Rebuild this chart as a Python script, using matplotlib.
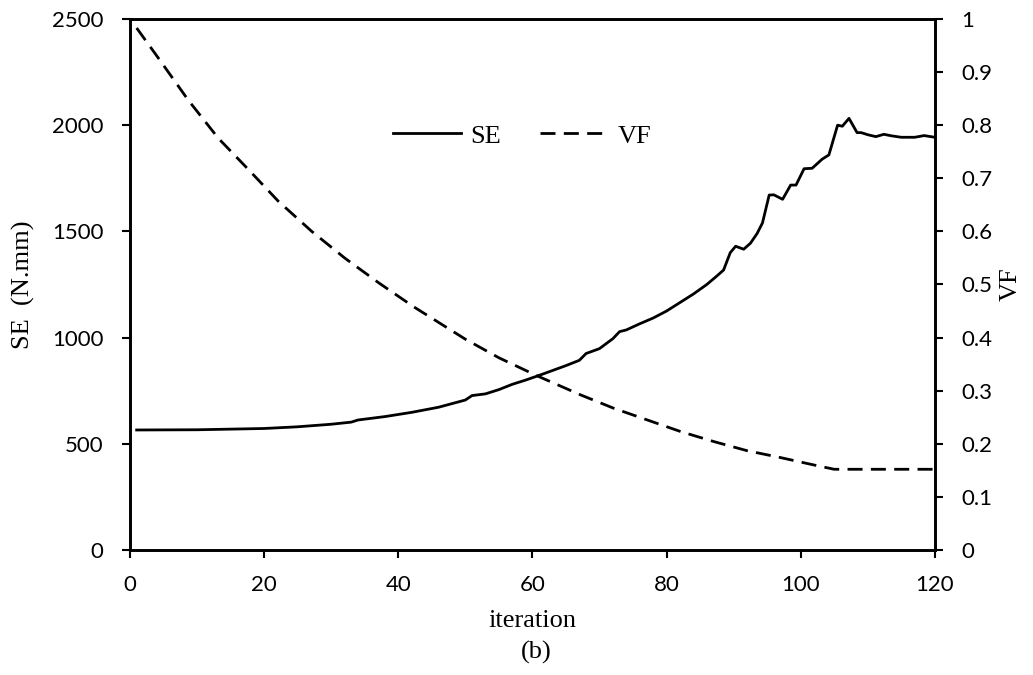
import numpy as np
import matplotlib.pyplot as plt
from matplotlib.lines import Line2D

# data
se_iter = [1, 10, 20, 25, 30, 33, 34, 38, 42, 46, 50, 51, 53, 55, 57, 59, 61, 63, 65, 67,
           68, 70, 72, 73, 74, 76, 78, 80, 82, 84, 86, 87.5, 88.5, 89.5, 90.3, 91.5, 92.5,
           93.5, 94.3, 95.3, 96, 97.3, 98.5, 99.3, 100.5, 101.7, 103.2, 104.2, 105.5, 106.2,
           107.2, 108.4, 109, 110, 111.2, 112.4, 113.5, 115, 117, 118.4, 120]
se_val = [565, 566, 572, 580, 592, 602, 612, 628, 648, 672, 706, 727, 735, 755, 780, 800,
          822, 845, 868, 893, 925, 948, 995, 1028, 1036, 1065, 1092, 1125, 1165, 1205, 1250,
          1290, 1318, 1400, 1430, 1416, 1444, 1490, 1540, 1671, 1672, 1651, 1718, 1718, 1795,
          1797, 1840, 1860, 2000, 1995, 2032, 1965, 1965, 1955, 1946, 1957, 1950, 1943, 1943,
          1951, 1943]

vf_iter = [1, 4.2, 8.7, 13.2, 17.7, 22.1, 27.1, 32.1, 37.1, 42.3, 50, 55, 60.7, 67.2, 72.1,
           77.1, 82.1, 87.1, 92, 97, 102, 105, 120]
vf_val = [0.983, 0.927, 0.847, 0.775, 0.716, 0.657, 0.600, 0.549, 0.503, 0.458, 0.397, 0.362,
          0.328, 0.292, 0.267, 0.245, 0.223, 0.204, 0.187, 0.174, 0.160, 0.152, 0.152]

serif = 'Liberation Serif'
tickfont = 'Lato'
lw = 2.0
dash = (5.4, 3.0)

fig = plt.figure(figsize=(10.33, 6.75), dpi=100)
ax = fig.add_axes([0.1258, 0.1852, 0.7792, 0.7867])
ax2 = ax.twinx()

ax.plot(se_iter, se_val, color='black', lw=lw, solid_joinstyle='round')
ax2.plot(vf_iter, vf_val, color='black', lw=lw, dashes=dash)

ax.set_xlim(0, 120)
ax.set_ylim(0, 2500)
ax2.set_ylim(0, 1)
ax.set_xticks(np.arange(0, 121, 20))
ax.set_yticks(np.arange(0, 2501, 500))
ax2.set_yticks(np.arange(0, 1.01, 0.1))
ax2.set_yticklabels(['0', '0.1', '0.2', '0.3', '0.4', '0.5', '0.6', '0.7', '0.8', '0.9', '1'])

for a in (ax, ax2):
    for s in a.spines.values():
        s.set_linewidth(1.9)
    a.tick_params(axis='y', direction='out', length=6, width=1.5, labelsize=16, pad=13)
    a.tick_params(axis='x', direction='out', length=6, width=1.5, labelsize=16, pad=12)
    for lab in a.get_xticklabels() + a.get_yticklabels():
        lab.set_family(tickfont)

ax.set_xlabel('iteration', family=serif, fontsize=19)
ax.xaxis.set_label_coords(0.5, -0.113)
ax.set_ylabel('SE  (N.mm)', family=serif, fontsize=19)
ax.yaxis.set_label_coords(-0.118, 0.5)
ax2.set_ylabel('VF', family=serif, fontsize=19)
ax2.yaxis.set_label_coords(1.081, 0.5)

fig.text(0.5195, 0.034, '(b)', family=serif, fontsize=19, ha='center', va='center')

handles = [Line2D([], [], color='black', lw=lw),
           Line2D([], [], color='black', lw=lw, dashes=dash)]
ax.legend(handles, ['SE', 'VF'], ncol=2, frameon=False, loc='center',
          bbox_to_anchor=(0.487, 0.78), prop={'family': serif, 'size': 19},
          handlelength=2.6, columnspacing=1.45, handletextpad=0.35)

plt.savefig('out.png', dpi=100)
